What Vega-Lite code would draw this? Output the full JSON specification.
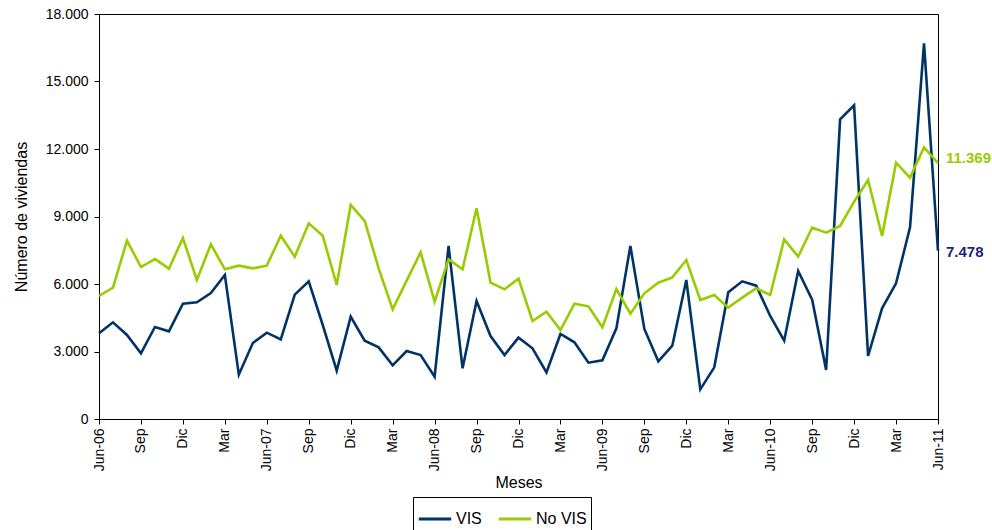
{
  "$schema": "https://vega.github.io/schema/vega-lite/v6.json",
  "autosize": {"type": "none"},
  "width": 839,
  "height": 405,
  "padding": {"left": 99, "top": 14, "right": 54, "bottom": 111},
  "background": "white",
  "config": {
    "locale": {"number": {"decimal": ",", "thousands": ".", "grouping": [3], "currency": ["$", ""]}},
    "font": "Liberation Sans",
    "view": {"stroke": "black", "strokeWidth": 1},
    "axis": {
      "domainColor": "black",
      "tickColor": "black",
      "labelColor": "black",
      "titleColor": "black",
      "labelFont": "Liberation Sans",
      "titleFont": "Liberation Sans",
      "labelFontSize": 14,
      "titleFontSize": 16,
      "titleFontWeight": "normal",
      "grid": false,
      "tickSize": 5
    }
  },
  "data": {
    "values": [
      {"mes": "2006-06", "VIS": 3807, "No VIS": 5467},
      {"mes": "2006-07", "VIS": 4296, "No VIS": 5836},
      {"mes": "2006-08", "VIS": 3733, "No VIS": 7926},
      {"mes": "2006-09", "VIS": 2918, "No VIS": 6755},
      {"mes": "2006-10", "VIS": 4089, "No VIS": 7111},
      {"mes": "2006-11", "VIS": 3896, "No VIS": 6681},
      {"mes": "2006-12", "VIS": 5126, "No VIS": 8044},
      {"mes": "2007-01", "VIS": 5185, "No VIS": 6177},
      {"mes": "2007-02", "VIS": 5600, "No VIS": 7763},
      {"mes": "2007-03", "VIS": 6400, "No VIS": 6652},
      {"mes": "2007-04", "VIS": 1970, "No VIS": 6815},
      {"mes": "2007-05", "VIS": 3378, "No VIS": 6696},
      {"mes": "2007-06", "VIS": 3837, "No VIS": 6815},
      {"mes": "2007-07", "VIS": 3541, "No VIS": 8148},
      {"mes": "2007-08", "VIS": 5526, "No VIS": 7215},
      {"mes": "2007-09", "VIS": 6118, "No VIS": 8696},
      {"mes": "2007-10", "VIS": 4178, "No VIS": 8148},
      {"mes": "2007-11", "VIS": 2148, "No VIS": 5955},
      {"mes": "2007-12", "VIS": 4548, "No VIS": 9511},
      {"mes": "2008-01", "VIS": 3481, "No VIS": 8800},
      {"mes": "2008-02", "VIS": 3185, "No VIS": 6696},
      {"mes": "2008-03", "VIS": 2385, "No VIS": 4874},
      {"mes": "2008-04", "VIS": 3022, "No VIS": 6148},
      {"mes": "2008-05", "VIS": 2844, "No VIS": 7407},
      {"mes": "2008-06", "VIS": 1881, "No VIS": 5215},
      {"mes": "2008-07", "VIS": 7689, "No VIS": 7096},
      {"mes": "2008-08", "VIS": 2252, "No VIS": 6652},
      {"mes": "2008-09", "VIS": 5244, "No VIS": 9363},
      {"mes": "2008-10", "VIS": 3689, "No VIS": 6059},
      {"mes": "2008-11", "VIS": 2844, "No VIS": 5763},
      {"mes": "2008-12", "VIS": 3615, "No VIS": 6237},
      {"mes": "2009-01", "VIS": 3141, "No VIS": 4355},
      {"mes": "2009-02", "VIS": 2074, "No VIS": 4770},
      {"mes": "2009-03", "VIS": 3778, "No VIS": 3955},
      {"mes": "2009-04", "VIS": 3407, "No VIS": 5126},
      {"mes": "2009-05", "VIS": 2504, "No VIS": 5007},
      {"mes": "2009-06", "VIS": 2607, "No VIS": 4074},
      {"mes": "2009-07", "VIS": 4029, "No VIS": 5777},
      {"mes": "2009-08", "VIS": 7689, "No VIS": 4681},
      {"mes": "2009-09", "VIS": 4000, "No VIS": 5585},
      {"mes": "2009-10", "VIS": 2563, "No VIS": 6059},
      {"mes": "2009-11", "VIS": 3259, "No VIS": 6296},
      {"mes": "2009-12", "VIS": 6177, "No VIS": 7066},
      {"mes": "2010-01", "VIS": 1318, "No VIS": 5289},
      {"mes": "2010-02", "VIS": 2296, "No VIS": 5511},
      {"mes": "2010-03", "VIS": 5630, "No VIS": 4948},
      {"mes": "2010-04", "VIS": 6118, "No VIS": 5393},
      {"mes": "2010-05", "VIS": 5926, "No VIS": 5807},
      {"mes": "2010-06", "VIS": 4578, "No VIS": 5511},
      {"mes": "2010-07", "VIS": 3481, "No VIS": 7985},
      {"mes": "2010-08", "VIS": 6578, "No VIS": 7215},
      {"mes": "2010-09", "VIS": 5300, "No VIS": 8510},
      {"mes": "2010-10", "VIS": 2178, "No VIS": 8281},
      {"mes": "2010-11", "VIS": 13318, "No VIS": 8578},
      {"mes": "2010-12", "VIS": 13940, "No VIS": 9659},
      {"mes": "2011-01", "VIS": 2800, "No VIS": 10622},
      {"mes": "2011-02", "VIS": 4918, "No VIS": 8133},
      {"mes": "2011-03", "VIS": 6030, "No VIS": 11392},
      {"mes": "2011-04", "VIS": 8518, "No VIS": 10726},
      {"mes": "2011-05", "VIS": 16696, "No VIS": 12074},
      {"mes": "2011-06", "VIS": 7478, "No VIS": 11369}
    ]
  },
  "layer": [
    {
      "transform": [{"fold": ["VIS", "No VIS"], "as": ["serie", "valor"]}],
      "mark": {"type": "line", "strokeWidth": 2.6, "strokeJoin": "miter"},
      "encoding": {
        "x": {
          "field": "mes",
          "type": "ordinal",
          "sort": "ascending",
          "scale": {"type": "point", "padding": 0},
          "axis": {
            "title": "Meses",
            "titlePadding": 4,
            "labelAngle": -90,
            "labelPadding": 4,
            "values": ["2006-06","2006-09","2006-12","2007-03","2007-06","2007-09","2007-12","2008-03","2008-06","2008-09","2008-12","2009-03","2009-06","2009-09","2009-12","2010-03","2010-06","2010-09","2010-12","2011-03","2011-06"],
            "labelExpr": "substring(datum.value,5,7)=='06' ? 'Jun-' + substring(datum.value,2,4) : substring(datum.value,5,7)=='09' ? 'Sep' : substring(datum.value,5,7)=='12' ? 'Dic' : 'Mar'"
          }
        },
        "y": {
          "field": "valor",
          "type": "quantitative",
          "scale": {"domain": [0, 18000], "nice": false},
          "axis": {
            "title": "Número de viviendas",
            "titlePadding": 16,
            "values": [0, 3000, 6000, 9000, 12000, 15000, 18000],
            "format": ",.0f",
            "labelPadding": 6
          }
        },
        "color": {
          "field": "serie",
          "type": "nominal",
          "sort": ["VIS", "No VIS"],
          "scale": {"domain": ["VIS", "No VIS"], "range": ["#003366", "#99CC00"]},
          "legend": {
            "title": null,
            "orient": "none",
            "legendX": 314,
            "legendY": 483,
            "direction": "horizontal",
            "symbolType": "stroke",
            "symbolSize": 1050,
            "symbolStrokeWidth": 3,
            "labelFont": "Liberation Sans",
            "labelFontSize": 16,
            "labelColor": "black",
            "labelOffset": 3,
            "columnPadding": 10,
            "strokeColor": "black",
            "fillColor": "white",
            "padding": 4
          }
        }
      }
    },
    {
      "transform": [{"filter": "datum.mes == '2011-06'"}],
      "mark": {"type": "text", "align": "left", "baseline": "middle", "dx": 8, "dy": -5, "fontWeight": "bold", "fontSize": 15, "color": "#99CC00", "font": "Liberation Sans"},
      "encoding": {
        "x": {"field": "mes", "type": "ordinal"},
        "y": {"field": "No VIS", "type": "quantitative"},
        "text": {"field": "No VIS", "type": "quantitative", "format": ",.0f"}
      }
    },
    {
      "transform": [{"filter": "datum.mes == '2011-06'"}],
      "mark": {"type": "text", "align": "left", "baseline": "middle", "dx": 8, "dy": 1, "fontWeight": "bold", "fontSize": 15, "color": "#1F1F80", "font": "Liberation Sans"},
      "encoding": {
        "x": {"field": "mes", "type": "ordinal"},
        "y": {"field": "VIS", "type": "quantitative"},
        "text": {"field": "VIS", "type": "quantitative", "format": ",.0f"}
      }
    }
  ]
}
